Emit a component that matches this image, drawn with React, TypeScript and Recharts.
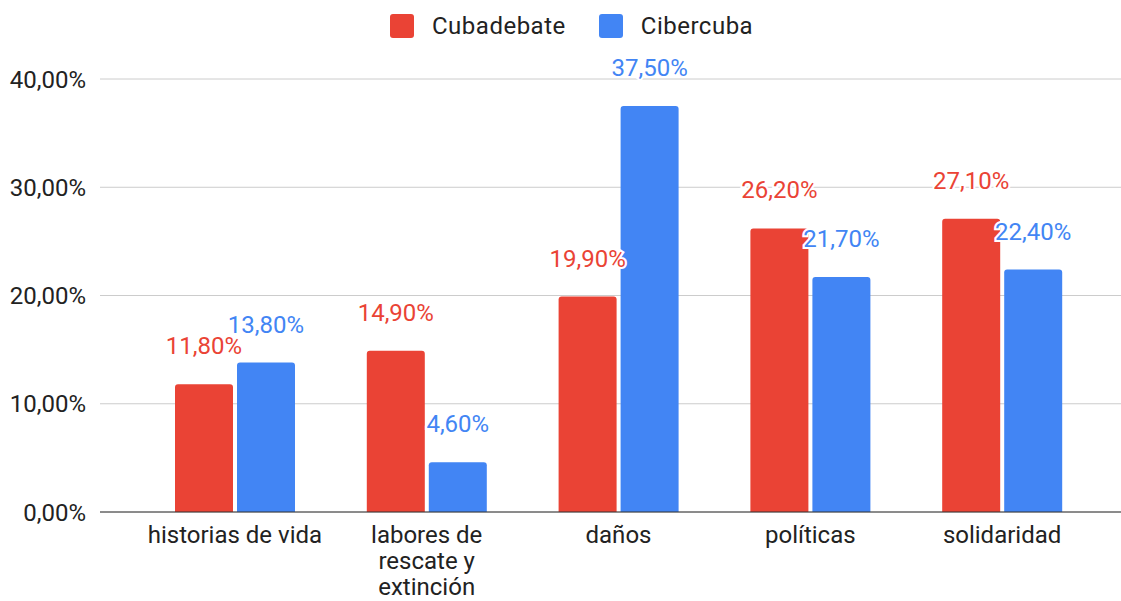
import React from 'react';
import { BarChart, Bar, XAxis, YAxis, CartesianGrid, LabelList } from 'recharts';

const categories = ['historias de vida', 'labores de rescate y extinción', 'daños', 'políticas', 'solidaridad'];
const cubadebate = [11.8, 14.9, 19.9, 26.2, 27.1];
const cibercuba = [13.8, 4.6, 37.5, 21.7, 22.4];
const yTicks = [0, 10, 20, 30, 40];

const RED = '#EA4335';
const BLUE = '#4285F4';
const FONT = 'Roboto, "Noto Sans", sans-serif';

const data = categories.map((name, i) => ({
  name,
  cubadebate: cubadebate[i],
  cibercuba: cibercuba[i],
}));

const pct = (v: number) => v.toFixed(2).replace('.', ',') + '%';

// simple word wrap, like the sheet does for long category names
const wrap = (label: string, max = 17) => {
  const lines: string[] = [];
  let cur = '';
  label.split(' ').forEach((w) => {
    const next = cur ? cur + ' ' + w : w;
    if (next.length > max && cur) {
      lines.push(cur);
      cur = w;
    } else {
      cur = next;
    }
  });
  if (cur) lines.push(cur);
  return lines;
};

const CategoryTick = (props: any) => {
  const { x, y, payload } = props;
  const lines = wrap(String(payload.value));
  return (
    <g>
      {lines.map((line, i) => (
        <text
          key={i}
          x={x}
          y={y + 23 + i * 26}
          textAnchor="middle"
          dominantBaseline="central"
          fontSize={24}
          fontFamily={FONT}
          fill="#222"
        >
          {line}
        </text>
      ))}
    </g>
  );
};

const makeLabel = (color: string) => (props: any) => {
  const { x, y, width, value } = props;
  return (
    <text
      x={x + width / 2}
      y={y - 38}
      textAnchor="middle"
      dominantBaseline="central"
      fontSize={24}
      fontFamily={FONT}
      fill={color}
      stroke="#fff"
      strokeWidth={4}
      paintOrder="stroke"
    >
      {pct(value)}
    </text>
  );
};

const legendItems = [
  { name: 'Cubadebate', color: RED },
  { name: 'Cibercuba', color: BLUE },
];

const App: React.FC = () => {
  return (
    <div style={{ position: 'absolute', left: 0, top: 0, width: 1121, height: 601, background: '#fff' }}>
      <div
        style={{
          position: 'absolute',
          left: 390,
          top: 12,
          display: 'flex',
          alignItems: 'center',
          fontFamily: FONT,
          fontSize: 24,
          letterSpacing: 0.5,
          color: '#222',
        }}
      >
        {legendItems.map((it, i) => (
          <div key={it.name} style={{ display: 'flex', alignItems: 'center', marginRight: i === 0 ? 33 : 0 }}>
            <div style={{ width: 24, height: 24, borderRadius: 3, background: it.color, marginRight: 18 }} />
            <span>{it.name}</span>
          </div>
        ))}
      </div>
      <BarChart
        width={1121}
        height={601}
        data={data}
        margin={{ top: 79, right: 0, left: 0, bottom: 0 }}
        barSize={58}
        barGap={4}
      >
        <CartesianGrid vertical={false} stroke="#ccc" />
        <XAxis
          dataKey="name"
          height={89}
          padding={{ left: 39, right: 23 }}
          axisLine={{ stroke: '#333' }}
          tickLine={false}
          tickSize={0}
          tickMargin={0}
          interval={0}
          tick={<CategoryTick />}
        />
        <YAxis
          width={100}
          domain={[0, 40]}
          ticks={yTicks}
          tickFormatter={pct}
          axisLine={false}
          tickLine={false}
          tickSize={0}
          tickMargin={14}
          tick={{ fontSize: 24, fontFamily: FONT, fill: '#222' }}
        />
        <Bar dataKey="cubadebate" name="Cubadebate" fill={RED} radius={[3, 3, 0, 0]} isAnimationActive={false}>
          <LabelList dataKey="cubadebate" content={makeLabel(RED)} />
        </Bar>
        <Bar dataKey="cibercuba" name="Cibercuba" fill={BLUE} radius={[3, 3, 0, 0]} isAnimationActive={false}>
          <LabelList dataKey="cibercuba" content={makeLabel(BLUE)} />
        </Bar>
      </BarChart>
    </div>
  );
};

export default App;
